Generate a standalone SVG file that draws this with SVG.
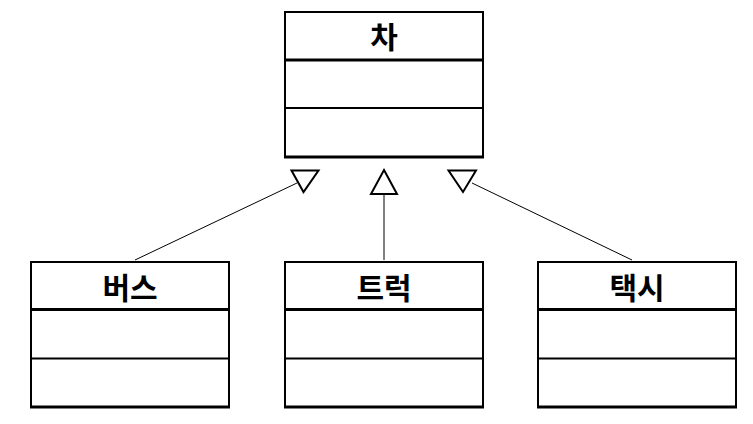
<svg xmlns="http://www.w3.org/2000/svg" width="753" height="424" viewBox="0 0 753 424">
<style>
.box{fill:#fff;stroke:#000;stroke-width:2}
.div{stroke:#000;stroke-width:2}
.thick{stroke:#000;stroke-width:3}
.name{font-family:"Noto Sans CJK KR","Noto Sans",sans-serif;font-weight:bold;font-size:30px;text-anchor:middle;dominant-baseline:central;fill:#000}
.conn{stroke:#000;stroke-width:1;fill:none}
.tri{fill:#fff;stroke:#000;stroke-width:2;stroke-linejoin:miter}
</style>
<rect width="753" height="424" fill="#fff"/>
<g id="connectors">
<line class="conn" x1="135" y1="260" x2="297" y2="183"/>
<line class="conn" x1="384" y1="260" x2="384" y2="194"/>
<line class="conn" x1="632" y1="260" x2="472" y2="183"/>
<polygon class="tri" points="291.5,170.5 318.5,170.5 303.5,192"/>
<polygon class="tri" points="384,170 397,194 371,194"/>
<polygon class="tri" points="448.5,170.5 476,170.5 463,192"/>
</g>
<g id="car">
<rect class="box" x="285" y="12" width="198" height="145"/>
<line class="thick" x1="284" y1="60" x2="484" y2="60"/>
<line class="div" x1="284" y1="108" x2="484" y2="108"/>
<line class="thick" x1="284" y1="157" x2="484" y2="157"/>
<text class="name" x="384" y="35">차</text>
</g>
<g id="bus">
<rect class="box" x="31" y="262" width="198" height="145"/>
<line class="thick" x1="30" y1="309.5" x2="230" y2="309.5"/>
<line class="div" x1="30" y1="358.5" x2="230" y2="358.5"/>
<line class="thick" x1="30" y1="407" x2="230" y2="407"/>
<text class="name" x="130" y="286">버스</text>
</g>
<g id="truck">
<rect class="box" x="285" y="262" width="198" height="145"/>
<line class="thick" x1="284" y1="309.5" x2="484" y2="309.5"/>
<line class="div" x1="284" y1="358.5" x2="484" y2="358.5"/>
<line class="thick" x1="284" y1="407" x2="484" y2="407"/>
<text class="name" x="384" y="286">트럭</text>
</g>
<g id="taxi">
<rect class="box" x="538" y="262" width="198" height="145"/>
<line class="thick" x1="537" y1="309.5" x2="737" y2="309.5"/>
<line class="div" x1="537" y1="358.5" x2="737" y2="358.5"/>
<line class="thick" x1="537" y1="407" x2="737" y2="407"/>
<text class="name" x="637" y="286">택시</text>
</g>
</svg>
